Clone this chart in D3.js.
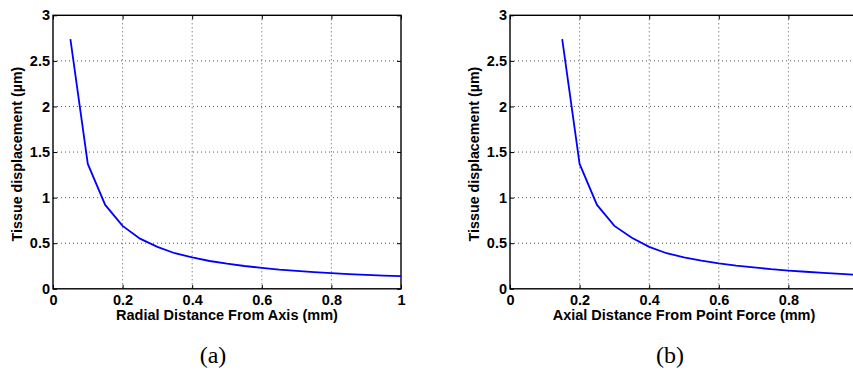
<!DOCTYPE html>
<html>
<head>
<meta charset="utf-8">
<script src="https://cdn.jsdelivr.net/npm/d3@7"></script>
<style>
  body { margin: 0; background: #fff; }
  svg { display: block; }
</style>
</head>
<body>
<script>
// Panel (a): radial distance from axis
var radialX = [0.05, 0.1, 0.15, 0.2, 0.25, 0.3, 0.35, 0.4, 0.45, 0.5, 0.55, 0.6, 0.65, 0.7, 0.75, 0.8, 0.85, 0.9, 0.95, 1.0];
var radialY = [2.74, 1.37, 0.92, 0.69, 0.55, 0.46, 0.39, 0.345, 0.305, 0.275, 0.25, 0.23, 0.21, 0.196, 0.183, 0.172, 0.162, 0.153, 0.145, 0.138];

// Panel (b): axial distance from point force
var axialX = [0.15, 0.2, 0.25, 0.3, 0.35, 0.4, 0.45, 0.5, 0.55, 0.6, 0.65, 0.7, 0.75, 0.8, 0.85, 0.9, 0.95, 1.0];
var axialY = [2.74, 1.37, 0.92, 0.69, 0.56, 0.46, 0.39, 0.345, 0.31, 0.28, 0.255, 0.235, 0.215, 0.2, 0.187, 0.175, 0.163, 0.153];

var xTicks = [0, 0.2, 0.4, 0.6, 0.8, 1];
var yTicks = [0, 0.5, 1, 1.5, 2, 2.5, 3];
var yLabel = "Tissue displacement (\u00b5m)";

var W = 853, H = 372;
var svg = d3.select("body")
    .append("svg")
    .attr("width", W)
    .attr("height", H);

// bold sans labels like the matlab figure
function boldText(a) {
    a.attr("font-family", "'Liberation Sans', Arial, sans-serif")
        .attr("font-weight", "bold")
        .attr("font-size", 14.5);
    a.selectAll(".tick text").attr("fill", "#000");
}

function drawPanel(left, xs, ys, xTitle, caption) {
    var w = 348, h = 273.5, top = 15.3;
    var g = svg.append("g").attr("transform", "translate(" + left + "," + top + ")");

    var x = d3.scaleLinear().domain([0, 1]).range([0, w]);
    var y = d3.scaleLinear().domain([0, 3]).range([h, 0]);

    // only label ticks that fit inside the picture (panel b runs off the right edge)
    var xLabelled = xTicks.filter(d => left + x(d) + 6 < W);

    // dotted grid
    g.selectAll(".vgrid")
        .data(xTicks.filter(d => d > 0 && d < 1))
        .enter().append("line")
        .attr("x1", d => x(d)).attr("x2", d => x(d))
        .attr("y1", 0).attr("y2", h)
        .attr("stroke", "#555").attr("stroke-width", 1)
        .attr("stroke-dasharray", "1,3");
    g.selectAll(".hgrid")
        .data(yTicks.filter(d => d > 0 && d < 3))
        .enter().append("line")
        .attr("x1", 0).attr("x2", w)
        .attr("y1", d => y(d)).attr("y2", d => y(d))
        .attr("stroke", "#555").attr("stroke-width", 1)
        .attr("stroke-dasharray", "1,3");

    // axes, ticks pointing inward
    g.append("g")
        .attr("transform", "translate(0," + h + ")")
        .call(d3.axisBottom(x).tickValues(xLabelled).tickFormat(d3.format("")).tickSizeInner(-4).tickSizeOuter(0).tickPadding(6))
        .call(boldText)
        .call(a => a.select(".domain").remove());
    g.append("g")
        .call(d3.axisLeft(y).tickValues(yTicks).tickFormat(d3.format("")).tickSizeInner(-4).tickSizeOuter(0).tickPadding(3))
        .call(boldText)
        .call(a => a.select(".domain").remove());
    g.append("g")
        .call(d3.axisTop(x).tickValues(xTicks).tickFormat("").tickSizeInner(-4).tickSizeOuter(0))
        .call(a => a.select(".domain").remove());
    g.append("g")
        .attr("transform", "translate(" + w + ",0)")
        .call(d3.axisRight(y).tickValues(yTicks).tickFormat("").tickSizeInner(-4).tickSizeOuter(0))
        .call(a => a.select(".domain").remove());

    // box
    g.append("rect")
        .attr("width", w).attr("height", h)
        .attr("fill", "none").attr("stroke", "#000").attr("stroke-width", 1.4);

    // curve
    var line = d3.line()
        .x((d, i) => x(xs[i]))
        .y(d => y(d));
    g.append("path")
        .datum(ys)
        .attr("d", line)
        .attr("fill", "none")
        .attr("stroke", "#0000ff")
        .attr("stroke-width", 1.8);

    // titles
    g.append("text")
        .attr("x", w / 2).attr("y", h + 31)
        .attr("text-anchor", "middle")
        .attr("font-family", "'Liberation Sans', Arial, sans-serif")
        .attr("font-weight", "bold").attr("font-size", 14.5)
        .text(xTitle);
    g.append("text")
        .attr("transform", "translate(-31," + (h / 2 + 2) + ") rotate(-90)")
        .attr("text-anchor", "middle")
        .attr("font-family", "'Liberation Sans', Arial, sans-serif")
        .attr("font-weight", "bold").attr("font-size", 14.3)
        .text(yLabel);
    g.append("text")
        .attr("x", w / 2 - 14).attr("y", h + 74.5)
        .attr("text-anchor", "middle")
        .attr("font-family", "'Liberation Serif', 'Times New Roman', serif")
        .attr("font-size", 24)
        .text(caption);
}

drawPanel(53, radialX, radialY, "Radial Distance From Axis (mm)", "(a)");
drawPanel(510, axialX, axialY, "Axial Distance From Point Force (mm)", "(b)");
</script>
</body>
</html>
